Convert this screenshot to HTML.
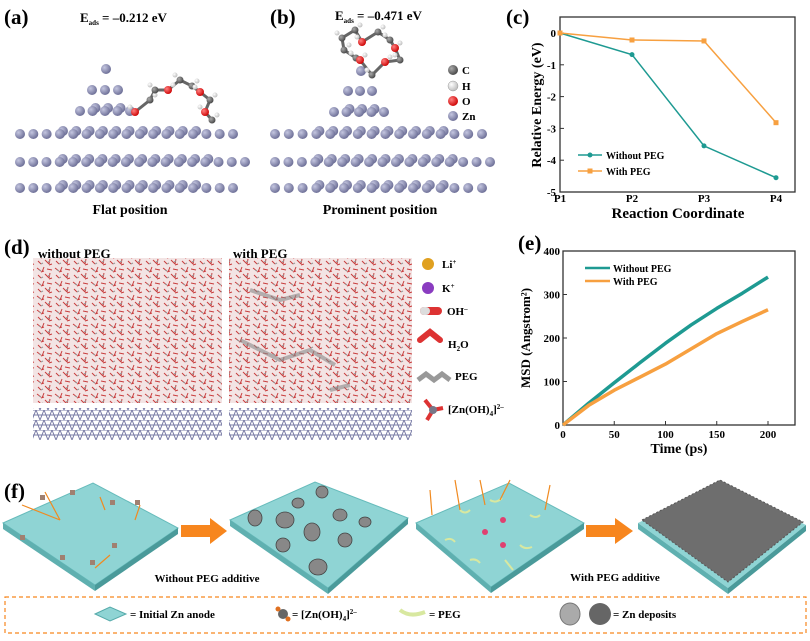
<!DOCTYPE html>
<html><head><meta charset="utf-8"><style>
body{margin:0;background:#fff;width:810px;height:636px;overflow:hidden;font-family:"Liberation Serif",serif;}
svg text{font-family:"Liberation Serif",serif;font-weight:bold;}
</style></head><body>
<svg id="fig" width="810" height="636" viewBox="0 0 810 636" xmlns="http://www.w3.org/2000/svg">
<defs>
<radialGradient id="zn" cx="35%" cy="35%" r="70%"><stop offset="0" stop-color="#c4c6e0"/><stop offset="1" stop-color="#6a6c94"/></radialGradient>
<radialGradient id="cg" cx="35%" cy="35%" r="70%"><stop offset="0" stop-color="#aaa"/><stop offset="1" stop-color="#444"/></radialGradient>
<radialGradient id="hg" cx="35%" cy="35%" r="70%"><stop offset="0" stop-color="#fff"/><stop offset="1" stop-color="#bbb"/></radialGradient>
<radialGradient id="og" cx="35%" cy="35%" r="70%"><stop offset="0" stop-color="#ff8080"/><stop offset="1" stop-color="#c00"/></radialGradient>
<pattern id="water" width="18" height="14" patternUnits="userSpaceOnUse">
<rect width="18" height="14" fill="#f3e4e4"/>
<path d="M1 2l4 3M8 1l-2 5M11 3l5 1M2 9l3 3M9 8l4 4M14 7l-1 5M16 12l-3 1M5 6l3 -1" stroke="#c83c3c" stroke-width="1"/>
<path d="M3 4l2 1M12 10l2 -1M7 11l-2 1" stroke="#999" stroke-width="1"/>
</pattern>
<pattern id="lat" width="8" height="10" patternUnits="userSpaceOnUse">
<rect width="8" height="10" fill="#fff"/><path d="M0 10L4 0L8 10M0 0h8M0 5h8" stroke="#7a7ca6" stroke-width="1" fill="none"/>
</pattern>
</defs>

<text x="4" y="24" font-size="21">(a)</text>
<text x="80" y="22" font-size="13">E<tspan font-size="7" dy="3">ads</tspan><tspan dy="-3"> = –0.212 eV</tspan></text>
<text x="270" y="24" font-size="21">(b)</text>
<text x="335" y="20" font-size="13">E<tspan font-size="7" dy="3">ads</tspan><tspan dy="-3"> = –0.471 eV</tspan></text>
<g id="slabs"></g>
<text x="130" y="214" font-size="14" text-anchor="middle">Flat position</text>
<text x="380" y="214" font-size="14" text-anchor="middle">Prominent position</text>
<g font-size="11">
<circle cx="453" cy="70" r="5" fill="url(#cg)"/><text x="462" y="74">C</text>
<circle cx="453" cy="86" r="5" fill="url(#hg)" stroke="#999" stroke-width=".5"/><text x="462" y="90">H</text>
<circle cx="453" cy="101" r="5" fill="url(#og)"/><text x="462" y="105">O</text>
<circle cx="453" cy="116" r="5" fill="url(#zn)"/><text x="462" y="120">Zn</text>
</g>

<text x="506" y="24" font-size="21">(c)</text>
<g id="chartC"></g>

<text x="4" y="254" font-size="21">(d)</text>
<rect x="33" y="258" width="189" height="145" fill="url(#water)"/>
<rect x="229" y="258" width="183" height="145" fill="url(#water)"/>
<path d="M250 290l30 10l20 -5M240 340l40 20l30 -10l25 15M330 390l20 -5" stroke="#888" stroke-width="4" fill="none" opacity=".6"/>
<rect x="33" y="408" width="189" height="32" fill="url(#lat)"/>
<rect x="229" y="408" width="183" height="32" fill="url(#lat)"/>
<text x="38" y="258" font-size="13">without PEG</text>
<text x="233" y="258" font-size="13">with PEG</text>
<g font-size="11">
<circle cx="428" cy="264" r="6" fill="#e0a020"/><text x="442" y="268">Li<tspan font-size="7" dy="-4">+</tspan></text>
<circle cx="428" cy="288" r="6" fill="#8a3cc0"/><text x="442" y="292">K<tspan font-size="7" dy="-4">+</tspan></text>
<rect x="420" y="307" width="22" height="8" rx="4" fill="#d33"/><rect x="420" y="307" width="10" height="8" rx="4" fill="#ddd"/><text x="447" y="315">OH<tspan font-size="7" dy="-4">–</tspan></text>
<path d="M420 340l10 -8l10 8" stroke="#d33" stroke-width="6" fill="none" stroke-linecap="round"/><text x="448" y="348">H<tspan font-size="7" dy="3">2</tspan><tspan dy="-3">O</tspan></text>
<path d="M418 380l8 -6l8 6l8 -6l8 6" stroke="#999" stroke-width="5" fill="none"/><text x="455" y="380">PEG</text>
<path d="M425 400l8 10l-6 10M433 410l10 -2" stroke="#d33" stroke-width="4" fill="none"/><circle cx="433" cy="410" r="4" fill="#778"/><text x="448" y="413">[Zn(OH)<tspan font-size="7" dy="3">4</tspan><tspan dy="-3">]</tspan><tspan font-size="7" dy="-4">2–</tspan></text>
</g>

<text x="518" y="250" font-size="21">(e)</text>
<g id="chartE"></g>

<text x="4" y="498" font-size="21">(f)</text>
<g>
<polygon points="3,523 93,483 178,528 95,585" fill="#8fd4d4" stroke="#6bb" stroke-width="1"/>
<polygon points="3,523 95,585 95,591 3,529" fill="#5fb0b0"/><polygon points="95,585 178,528 178,534 95,591" fill="#4a9a9a"/>
<g fill="#a08070"><rect x="40" y="495" width="5" height="5"/><rect x="70" y="490" width="5" height="5"/><rect x="20" y="535" width="5" height="5"/><rect x="110" y="500" width="5" height="5"/><rect x="135" y="500" width="5" height="5"/><rect x="112" y="543" width="5" height="5"/><rect x="90" y="560" width="5" height="5"/><rect x="60" y="555" width="5" height="5"/></g>
<path d="M22 505L60 520M45 492L60 520M100 497L105 510M140 505L135 520M110 555L95 568" stroke="#f08a20" stroke-width="1.2"/>
</g>
<polygon points="181,525 210,525 210,518 227,531 210,544 210,537 181,537" fill="#f7861e"/>
<g>
<polygon points="230,520 315,482 408,518 328,588" fill="#8fd4d4" stroke="#6bb"/>
<polygon points="230,520 328,588 328,594 230,526" fill="#5fb0b0"/><polygon points="328,588 408,518 408,524 328,594" fill="#4a9a9a"/>
<g fill="#888" stroke="#444" stroke-width=".8"><ellipse cx="285" cy="520" rx="9" ry="8"/><ellipse cx="298" cy="503" rx="6" ry="5"/><ellipse cx="322" cy="492" rx="6" ry="6"/><ellipse cx="340" cy="515" rx="7" ry="6"/><ellipse cx="312" cy="532" rx="8" ry="9"/><ellipse cx="255" cy="518" rx="7" ry="8"/><ellipse cx="365" cy="522" rx="6" ry="5"/><ellipse cx="345" cy="540" rx="7" ry="7"/><ellipse cx="318" cy="567" rx="9" ry="8"/><ellipse cx="283" cy="545" rx="7" ry="7"/></g>
</g>
<text x="207" y="582" font-size="11" text-anchor="middle">Without PEG additive</text>
<g>
<polygon points="416,523 509,483 584,523 491,587" fill="#8fd4d4" stroke="#6bb"/>
<polygon points="416,523 491,587 491,593 416,529" fill="#5fb0b0"/><polygon points="491,587 584,523 584,529 491,593" fill="#4a9a9a"/>
<path d="M460 510q5 5 10 0M490 500q6 4 12 -2M445 540q6 -3 10 2M520 545q5 5 12 2M470 560q6 -2 10 3M530 515q6 4 10 0M505 560q4 5 8 10" stroke="#d8e8a0" stroke-width="2" fill="none"/>
<path d="M455 480L460 510M480 480L485 505M510 480L500 500M550 485L545 510M430 490L432 515" stroke="#f08a20" stroke-width="1.2"/>
<circle cx="485" cy="532" r="3" fill="#e04070"/><circle cx="503" cy="520" r="3" fill="#e04070"/><circle cx="503" cy="545" r="3" fill="#e04070"/>
</g>
<polygon points="586,525 615,525 615,518 633,531 615,544 615,537 586,537" fill="#f7861e"/>
<g>
<polygon points="638,523 720,482 806,525 728,588" fill="#8fd4d4"/>
<polygon points="638,523 728,588 728,594 638,529" fill="#5fb0b0"/><polygon points="728,588 806,525 806,531 728,594" fill="#4a9a9a"/>
<polygon points="642,520 720,480 803,522 728,582" fill="#6e6e6e" stroke="#555" stroke-dasharray="2 2"/>
</g>
<text x="615" y="581" font-size="11" text-anchor="middle">With PEG additive</text>
<g font-size="11">
<rect x="5" y="597" width="801" height="36" fill="none" stroke="#f7861e" stroke-width="1.2" stroke-dasharray="4 3"/>
<polygon points="95,614 110,607 126,614 110,621" fill="#8fd4d4" stroke="#5aa"/>
<text x="130" y="618">= Initial Zn anode</text>
<circle cx="283" cy="614" r="5" fill="#666"/><circle cx="278" cy="609" r="2.5" fill="#e07020"/><circle cx="288" cy="619" r="2.5" fill="#e07020"/>
<text x="292" y="618">= [Zn(OH)<tspan font-size="7" dy="3">4</tspan><tspan dy="-3">]</tspan><tspan font-size="7" dy="-4">2–</tspan></text>
<path d="M400 610q10 8 25 2" stroke="#d8e8a0" stroke-width="4" fill="none"/><text x="429" y="618">= PEG</text>
<ellipse cx="570" cy="614" rx="10" ry="11" fill="#aaa" stroke="#777"/><ellipse cx="600" cy="614" rx="11" ry="11" fill="#666"/>
<text x="613" y="618">= Zn deposits</text>
</g>
</svg>
<script>
// ---- Chart C data ----
const cCats = ['P1','P2','P3','P4'];
const cWithout = [0, -0.68, -3.55, -4.55];
const cWith = [0, -0.22, -0.25, -2.82];
const cTicks = [0,-1,-2,-3,-4,-5];
// ---- Chart E data ----
const eTime = [0,25,50,75,100,125,150,175,200];
const eWithout = [0,50,97,143,188,230,268,303,340];
const eWith = [0,45,80,110,140,175,210,238,265];
const eYTicks = [0,100,200,300,400];
const eXTicks = [0,50,100,150,200];

const NS='http://www.w3.org/2000/svg';
function mk(tag,attrs,parent,txt){const e=document.createElementNS(NS,tag);for(const k in attrs)e.setAttribute(k,attrs[k]);if(txt!==undefined)e.textContent=txt;parent.appendChild(e);return e;}

(function(){
  const g=document.getElementById('slabs');
  function row(x0,x1,y,n,name){
    const grp=mk('g',{},g);
    
    
    for(let i=0;i<n;i++){const x=n>1?x0+(x1-x0)*i/(n-1):x0;const mid=Math.abs(i-(n-1)/2)<(n/3);
      if(mid&&n>3){mk('circle',{cx:x+3,cy:y-3,r:5,fill:'url(#zn)'},grp);}
      mk('circle',{cx:x,cy:y,r:5,fill:'url(#zn)'},grp);}
  }
  row(20,233,134,17,'zn-row-a1');row(20,245,162,18,'zn-row-a2');row(20,233,188,17,'zn-row-a3');
  row(275,482,134,16,'zn-row-b1');row(275,490,162,17,'zn-row-b2');row(275,482,188,16,'zn-row-b3');
  row(80,130,111,5,'zn-pyr-a3');row(92,118,90,3,'zn-pyr-a2');row(106,106,69,1,'zn-pyr-a1');
  row(334,384,112,5,'zn-pyr-b3');row(348,372,91,3,'zn-pyr-b2');row(361,361,71,1,'zn-pyr-b1');
  function mol(pts,name){
    const grp=mk('g',{},g);
    
    
    let d='M'+pts.map(p=>p[0]+' '+p[1]).join('L');
    mk('path',{d:d,stroke:'#666','stroke-width':3,fill:'none'},grp);
    pts.forEach((p,i)=>{mk('circle',{cx:p[0],cy:p[1],r:p[2]==='o'?4:3.5,fill:p[2]==='o'?'url(#og)':'url(#cg)'},grp);
      mk('circle',{cx:p[0]+(i%2?5:-5),cy:p[1]-5,r:2.5,fill:'url(#hg)'},grp);});
  }
  mol([[135,112,'o'],[150,100],[155,90],[168,90,'o'],[180,80],[192,86],[200,92,'o'],[210,100],[205,112,'o'],[212,120]],'peg-molecule-flat');
  mol([[356,58],[344,50],[342,38],[355,30],[362,42,'o'],[378,32],[390,40],[395,48,'o'],[400,60],[385,62,'o'],[372,75],[360,60,'o']],'peg-molecule-prominent');
})();

(function(){
  const g=document.getElementById('chartC');
  const L=560,R=795,T=17,B=192;
  const y=v=>33+(0-v)*(192-33)/5;
  const x=i=>560+i*(776-560)/3;
  mk('rect',{x:L,y:T,width:R-L,height:B-T,fill:'none',stroke:'#333','stroke-width':1.3},g);
  cTicks.forEach(t=>{const yy=y(t);mk('line',{x1:L,x2:L+4,y1:yy,y2:yy,stroke:'#333'},g);
    const tx=mk('text',{x:L-4,y:yy+4,'font-size':11,'text-anchor':'end'},g,String(t));
    });
  cCats.forEach((c,i)=>{const tx=mk('text',{x:x(i),y:B+10,'font-size':11,'text-anchor':'middle'},g,c);
    });
  const xt=mk('text',{x:678,y:218,'font-size':15,'text-anchor':'middle'},g,'Reaction Coordinate');
  
  const yt=mk('text',{x:0,y:0,'font-size':14,'text-anchor':'middle',transform:'translate(541,105) rotate(-90)'},g,'Relative Energy (eV)');
  
  function series(vals,col,name,sq){
    const p=mk('polyline',{points:vals.map((v,i)=>x(i)+','+y(v)).join(' '),fill:'none',stroke:col,'stroke-width':1.5},g);
    
    vals.forEach((v,i)=>{const m=sq?mk('rect',{x:x(i)-2.5,y:y(v)-2.5,width:5,height:5,fill:col},g):mk('circle',{cx:x(i),cy:y(v),r:2.5,fill:col},g);
      });
  }
  series(cWithout,'#1e9a92','line-without-peg',false);
  series(cWith,'#f7a040','line-with-peg',true);
  mk('line',{x1:578,x2:602,y1:155,y2:155,stroke:'#1e9a92','stroke-width':1.5},g);mk('circle',{cx:590,cy:155,r:2.5,fill:'#1e9a92'},g);
  mk('text',{x:606,y:159,'font-size':10},g,'Without PEG');
  mk('line',{x1:578,x2:602,y1:171,y2:171,stroke:'#f7a040','stroke-width':1.5},g);mk('rect',{x:587.5,y:168.5,width:5,height:5,fill:'#f7a040'},g);
  mk('text',{x:606,y:175,'font-size':10},g,'With PEG');
})();

(function(){
  const g=document.getElementById('chartE');
  const L=563,R=795,T=251,B=425;
  const y=v=>B-v*(B-T)/400;
  const x=v=>L+v*(768-563)/200;
  mk('rect',{x:L,y:T,width:R-L,height:B-T,fill:'none',stroke:'#333','stroke-width':1.3},g);
  eYTicks.forEach(t=>{const yy=y(t);mk('line',{x1:L,x2:L+4,y1:yy,y2:yy,stroke:'#333'},g);
    const tx=mk('text',{x:L-3,y:yy+4,'font-size':11,'text-anchor':'end'},g,String(t));
    });
  eXTicks.forEach(t=>{const xx=x(t);mk('line',{x1:xx,x2:xx,y1:B,y2:B-4,stroke:'#333'},g);
    const tx=mk('text',{x:xx,y:B+13,'font-size':11,'text-anchor':'middle'},g,String(t));
    });
  const xt=mk('text',{x:679,y:453,'font-size':14,'text-anchor':'middle'},g,'Time (ps)');
  
  const yt=mk('text',{x:0,y:0,'font-size':13,'text-anchor':'middle',transform:'translate(530,338) rotate(-90)'},g,'MSD (Angstrom²)');
  
  function series(vals,col,name){
    const p=mk('polyline',{points:vals.map((v,i)=>x(eTime[i])+','+y(v)).join(' '),fill:'none',stroke:col,'stroke-width':3.5,'stroke-linejoin':'round'},g);
    
  }
  series(eWithout,'#1e9a92','msd-without-peg');
  series(eWith,'#f7a040','msd-with-peg');
  mk('line',{x1:585,x2:610,y1:268,y2:268,stroke:'#1e9a92','stroke-width':2.5},g);
  mk('text',{x:613,y:272,'font-size':10},g,'Without PEG');
  mk('line',{x1:585,x2:610,y1:281,y2:281,stroke:'#f7a040','stroke-width':2.5},g);
  mk('text',{x:613,y:285,'font-size':10},g,'With PEG');
})();
</script>
</body></html>
